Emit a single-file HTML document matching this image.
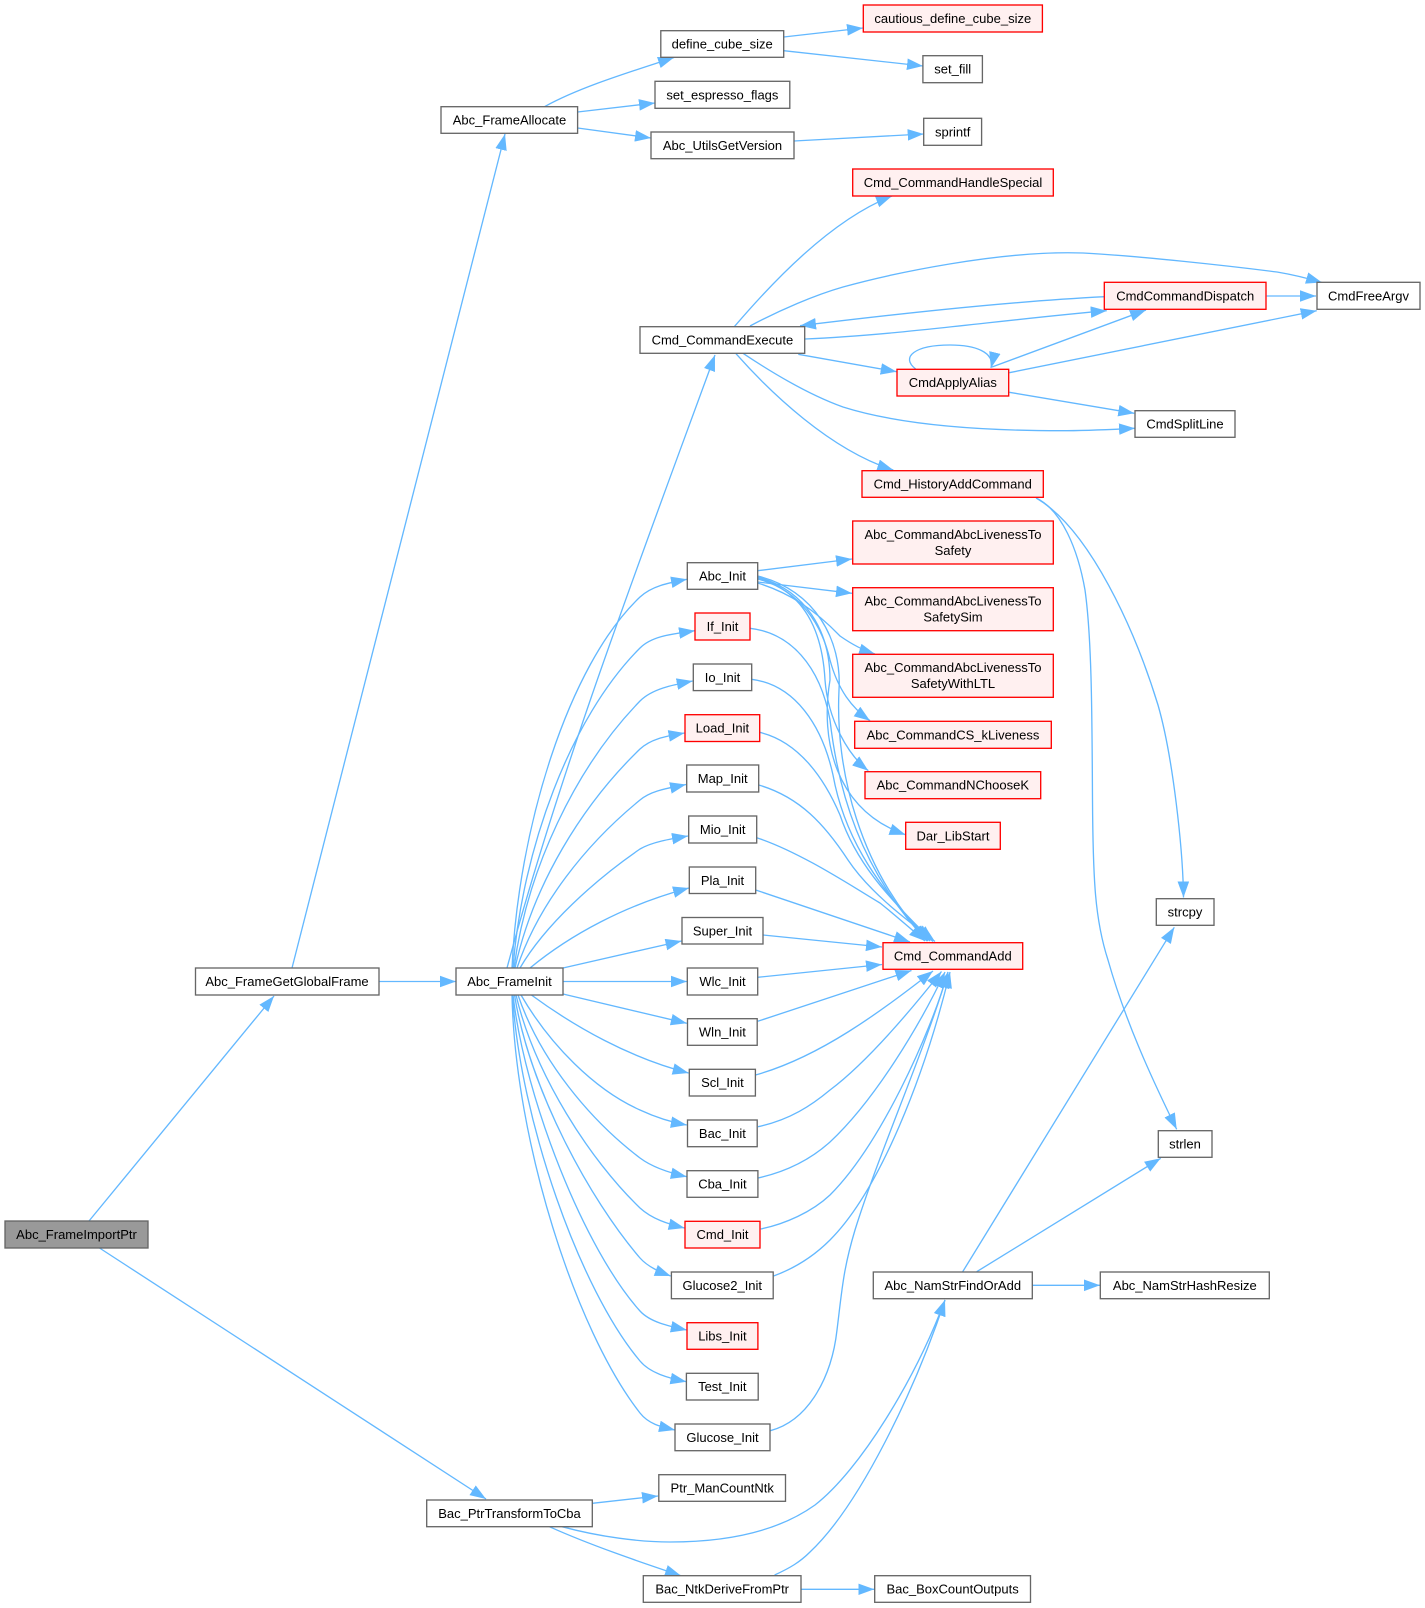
<!DOCTYPE html>
<html><head><meta charset="utf-8"><style>
html,body{margin:0;padding:0;background:#fff}
svg{display:block}
text{font-family:"Liberation Sans",Arial,sans-serif;font-size:13px;text-anchor:middle;fill:#000}
.n rect{fill:#fff;stroke:#666;stroke-width:1.33}
.n.r rect{fill:#fff0f0;stroke:#f00}
.n.g rect{fill:#999}
.e path{fill:none;stroke:#63b8ff;stroke-width:1.33;marker-end:url(#a)}
</style></head><body>
<svg xmlns="http://www.w3.org/2000/svg" width="1425" height="1608" viewBox="0 0 1425 1608">
<defs><marker id="a" markerUnits="userSpaceOnUse" markerWidth="17" markerHeight="12" refX="16" refY="5.8" orient="auto"><path d="M0,0 L16,5.8 L0,11.6 z" fill="#63b8ff" stroke="none"/></marker></defs>
<g class="e">
<path d="M89,1221 L274,996"/>
<path d="M99.5,1248 L486,1499"/>
<path d="M292,968 L505,134"/>
<path d="M379,981.5 L456,981.5"/>
<path d="M544.5,106.7 C580,87 630,72 674,57.5"/>
<path d="M577.6,112 L655,103"/>
<path d="M577.6,128 L651,138"/>
<path d="M783.7,37 L863,28"/>
<path d="M783.7,50.7 L923,66"/>
<path d="M794,141 L923.7,134"/>
<path d="M507,968 C560,770 640,560 715,355"/>
<path d="M512,968 C518,830 568,665 640,597 C652,586 668,583 687,579.3"/>
<path d="M513,968 C522,850 570,718 640,648 C652,636 672,634 695,630.7"/>
<path d="M514,968 C527,870 575,768 640,701 C652,689 672,685 692.7,681"/>
<path d="M515,968 C533,885 582,805 640,749 C652,738 668,736 684.5,733"/>
<path d="M517,968 C538,905 585,845 640,800 C652,790 670,788 686,784.5"/>
<path d="M520,968 C545,925 595,880 640,849 C652,842 670,839 688,836"/>
<path d="M530,968 C570,935 625,905 689,888"/>
<path d="M563,968 L681.5,941"/>
<path d="M563,981.5 L687,981.5"/>
<path d="M563,994 L686.8,1023.3"/>
<path d="M531.4,995 C575,1027 630,1058 688.6,1073"/>
<path d="M521,995 C550,1045 595,1090 640,1110 C655,1117 670,1122 686.8,1125"/>
<path d="M518,995 C540,1060 590,1120 640,1158 C652,1167 670,1173 686.8,1176.7"/>
<path d="M516,995 C535,1075 590,1160 640,1208 C652,1219 668,1224 684.6,1228"/>
<path d="M514.5,995 C530,1090 590,1200 640,1258 C648,1267 660,1272 670.7,1276"/>
<path d="M513,995 C525,1100 585,1250 640,1311 C650,1322 668,1326 686.8,1330"/>
<path d="M512.5,995 C520,1120 580,1290 640,1361 C650,1373 668,1378 686.4,1381.7"/>
<path d="M512,995 C515,1140 575,1330 640,1413 C649,1424.5 662,1427 675,1430"/>
<path d="M757.7,570.7 L852,559"/>
<path d="M757.7,582 L852,593.3"/>
<path d="M757.7,583 C790,593 815,610 840,636 C850,643 862,650 875,654"/>
<path d="M757.7,579 C800,590 822,625 830,660 C838,690 852,708 870,720.7"/>
<path d="M757.7,578 C800,590 822,625 825,680 C828,720 848,755 868.3,770.7"/>
<path d="M757.7,577 C805,590 830,630 830,680 C820,740 835,810 905.5,834.7"/>
<path d="M757.7,576 C815,590 842,640 839,690 C835,770 860,870 928,941"/>
<path d="M750,628.3 C790,633 820,665 830,720 C838,790 860,870 927,941"/>
<path d="M751.7,679.3 C795,685 822,725 833,775 C843,830 870,880 930,941"/>
<path d="M759.7,732.3 C800,742 825,780 840,815 C855,860 885,895 933,941.5"/>
<path d="M758.7,785 C800,797 825,825 848,860 C868,890 900,915 935,941.5"/>
<path d="M756.7,837.7 C800,852 850,885 880,903 C895,915 910,928 925,941"/>
<path d="M755.7,890 L910,942"/>
<path d="M763,935 L882,947"/>
<path d="M757.7,977.3 L882,964.5"/>
<path d="M757.7,1021.3 L911.5,970.5"/>
<path d="M755.5,1075 C820,1057 880,1012 933,971"/>
<path d="M758,1126.7 C790,1120 812,1105 830,1090 C870,1060 915,1005 941.5,971.5"/>
<path d="M758,1178 C785,1172 810,1160 830,1142 C875,1100 920,1025 945,972"/>
<path d="M760.7,1229 C785,1224 812,1212 830,1195 C880,1145 930,1035 948,972"/>
<path d="M773.6,1276 C790,1270 810,1260 830,1240 C880,1190 925,1075 950,972"/>
<path d="M770.4,1430.7 C810,1420 832,1375 837,1330 C842,1290 843,1270 855,1230 C880,1150 925,1050 948,972"/>
<path d="M734.3,326.7 C770,285 830,220 892,196"/>
<path d="M750,326 C780,310 815,295 843,287 C890,274 1000,250 1083,253 C1140,256 1230,266 1277,272 C1295,275 1310,279 1322,282.5"/>
<path d="M805,339 C900,335 1000,320 1106.7,310.7"/>
<path d="M1104.5,296.7 C1000,302 880,316 800,325.7"/>
<path d="M798.3,354.3 L896.7,371.7"/>
<path d="M743,353.3 C780,378 815,397 843,407 C900,425 980,431 1067,430.7 C1090,430.5 1112,429.5 1135,428.3"/>
<path d="M736,353.7 C770,392 830,450 893.3,470"/>
<path d="M915.7,369 C900,357 915,345 950,345 C975,345 995,352 991,368"/>
<path d="M992,367 L1146,310"/>
<path d="M1009.3,372.7 L1316.7,310.7"/>
<path d="M1009.3,392.3 L1134.3,413.3"/>
<path d="M1266.7,296 L1316,296"/>
<path d="M1036.7,498.3 C1090,530 1135,630 1158,705 C1173,757 1183,850 1183.5,897.5"/>
<path d="M1036,498 C1062,510 1078,550 1085,590 C1092,640 1092,720 1092.5,800 C1093,880 1095,920 1108,960 C1125,1020 1150,1075 1176.7,1129.3"/>
<path d="M962.7,1271.7 L1174.3,927.3"/>
<path d="M976.7,1271.7 L1160.7,1158.3"/>
<path d="M1032.3,1285.3 L1100,1285.3"/>
<path d="M592.3,1503.3 L658,1496"/>
<path d="M562,1526.7 C600,1537 640,1542 670,1542 C730,1542 780,1530 815,1505 C860,1470 915,1380 945,1300"/>
<path d="M774.6,1575 C790,1568 800,1562 810,1552 C860,1505 915,1390 945,1300"/>
<path d="M549.4,1526.7 C590,1545 640,1562 681,1575.7"/>
<path d="M801,1589.3 L874.3,1589.3"/>
</g>
<g class="n g"><rect x="5" y="1221" width="143" height="27"/><text x="76.5" y="1239">Abc_FrameImportPtr</text></g>
<g class="n"><rect x="195.5" y="968" width="183.5" height="27"/><text x="287" y="986">Abc_FrameGetGlobalFrame</text></g>
<g class="n"><rect x="456" y="968" width="107" height="27"/><text x="509.5" y="986">Abc_FrameInit</text></g>
<g class="n"><rect x="441" y="106.7" width="136.6" height="26.6"/><text x="509.5" y="124.5">Abc_FrameAllocate</text></g>
<g class="n"><rect x="660.8" y="30.7" width="122.9" height="26.6"/><text x="722.2" y="48.5">define_cube_size</text></g>
<g class="n"><rect x="655" y="81.3" width="134.8" height="27"/><text x="722.4" y="99.3">set_espresso_flags</text></g>
<g class="n"><rect x="651" y="132" width="143" height="26.7"/><text x="722.5" y="150">Abc_UtilsGetVersion</text></g>
<g class="n r"><rect x="863.3" y="5" width="179.1" height="27"/><text x="952.8" y="23">cautious_define_cube_size</text></g>
<g class="n"><rect x="922.9" y="55.7" width="59.5" height="27"/><text x="952.7" y="73.7">set_fill</text></g>
<g class="n"><rect x="923.7" y="118.3" width="57.9" height="27"/><text x="952.7" y="136.3">sprintf</text></g>
<g class="n r"><rect x="852.7" y="169" width="200.6" height="27"/><text x="953" y="187">Cmd_CommandHandleSpecial</text></g>
<g class="n"><rect x="640" y="326.7" width="164.7" height="26.6"/><text x="722.4" y="344.5">Cmd_CommandExecute</text></g>
<g class="n r"><rect x="1104.3" y="282.3" width="161.7" height="27"/><text x="1185.2" y="300.3">CmdCommandDispatch</text></g>
<g class="n"><rect x="1317" y="282.3" width="103" height="27"/><text x="1368.5" y="300.3">CmdFreeArgv</text></g>
<g class="n r"><rect x="897" y="369.3" width="111.7" height="26.7"/><text x="952.8" y="387.2">CmdApplyAlias</text></g>
<g class="n"><rect x="1135" y="410.7" width="100" height="26.6"/><text x="1185" y="428.5">CmdSplitLine</text></g>
<g class="n r"><rect x="862" y="470.7" width="181.3" height="26.6"/><text x="952.7" y="488.5">Cmd_HistoryAddCommand</text></g>
<g class="n r"><rect x="852.7" y="521" width="200.6" height="43"/><text x="953" y="538.8">Abc_CommandAbcLivenessTo</text><text x="953" y="554.8">Safety</text></g>
<g class="n r"><rect x="852.7" y="587.7" width="200.6" height="43"/><text x="953" y="605.5">Abc_CommandAbcLivenessTo</text><text x="953" y="621.5">SafetySim</text></g>
<g class="n r"><rect x="852.7" y="654.3" width="200.6" height="43"/><text x="953" y="672.1">Abc_CommandAbcLivenessTo</text><text x="953" y="688.1">SafetyWithLTL</text></g>
<g class="n r"><rect x="854.7" y="721.3" width="196.6" height="27"/><text x="953" y="739.3">Abc_CommandCS_kLiveness</text></g>
<g class="n r"><rect x="865" y="771.7" width="175.7" height="27"/><text x="952.8" y="789.7">Abc_CommandNChooseK</text></g>
<g class="n r"><rect x="905.7" y="822.3" width="94.6" height="27"/><text x="953" y="840.3">Dar_LibStart</text></g>
<g class="n r"><rect x="883" y="942.7" width="139.7" height="26.6"/><text x="952.8" y="960.5">Cmd_CommandAdd</text></g>
<g class="n"><rect x="687.3" y="562.7" width="70.4" height="26.6"/><text x="722.5" y="580.5">Abc_Init</text></g>
<g class="n r"><rect x="695" y="613" width="55" height="27"/><text x="722.5" y="631">If_Init</text></g>
<g class="n"><rect x="693.3" y="664" width="58.4" height="26.6"/><text x="722.5" y="681.8">Io_Init</text></g>
<g class="n r"><rect x="685" y="714.7" width="74.7" height="26.8"/><text x="722.4" y="732.6">Load_Init</text></g>
<g class="n"><rect x="686.7" y="765" width="72" height="27"/><text x="722.7" y="783">Map_Init</text></g>
<g class="n"><rect x="688.7" y="816" width="68" height="27"/><text x="722.7" y="834">Mio_Init</text></g>
<g class="n"><rect x="689.3" y="867" width="66.4" height="26.5"/><text x="722.5" y="884.8">Pla_Init</text></g>
<g class="n"><rect x="682" y="917.5" width="81" height="26.5"/><text x="722.5" y="935.3">Super_Init</text></g>
<g class="n"><rect x="687.3" y="968" width="70.4" height="27"/><text x="722.5" y="986">Wlc_Init</text></g>
<g class="n"><rect x="687.5" y="1018.7" width="69.7" height="26.6"/><text x="722.4" y="1036.5">Wln_Init</text></g>
<g class="n"><rect x="689.3" y="1069.3" width="66.1" height="26.7"/><text x="722.4" y="1087.2">Scl_Init</text></g>
<g class="n"><rect x="687.5" y="1120" width="69.7" height="26.7"/><text x="722.4" y="1137.9">Bac_Init</text></g>
<g class="n"><rect x="687" y="1170.7" width="70.9" height="26.6"/><text x="722.4" y="1188.5">Cba_Init</text></g>
<g class="n r"><rect x="685" y="1221.3" width="75" height="26.7"/><text x="722.5" y="1239.2">Cmd_Init</text></g>
<g class="n"><rect x="671.4" y="1272" width="101.8" height="26.7"/><text x="722.3" y="1289.9">Glucose2_Init</text></g>
<g class="n r"><rect x="687" y="1322.7" width="70.9" height="26.6"/><text x="722.4" y="1340.5">Libs_Init</text></g>
<g class="n"><rect x="686.4" y="1373.3" width="71.8" height="26.7"/><text x="722.3" y="1391.2">Test_Init</text></g>
<g class="n"><rect x="675" y="1424" width="95" height="26.7"/><text x="722.5" y="1441.9">Glucose_Init</text></g>
<g class="n"><rect x="1156.3" y="898.7" width="57.7" height="26.6"/><text x="1185" y="916.5">strcpy</text></g>
<g class="n"><rect x="1158.3" y="1130.7" width="53.7" height="26.6"/><text x="1185" y="1148.5">strlen</text></g>
<g class="n"><rect x="873.3" y="1272" width="159" height="26.7"/><text x="952.8" y="1289.9">Abc_NamStrFindOrAdd</text></g>
<g class="n"><rect x="1100.3" y="1272" width="169" height="26.7"/><text x="1184.8" y="1289.9">Abc_NamStrHashResize</text></g>
<g class="n"><rect x="426.7" y="1500" width="165.6" height="26.7"/><text x="509.5" y="1517.9">Bac_PtrTransformToCba</text></g>
<g class="n"><rect x="658.8" y="1474.7" width="126.7" height="26.6"/><text x="722.2" y="1492.5">Ptr_ManCountNtk</text></g>
<g class="n"><rect x="643.3" y="1575.7" width="157.7" height="26.6"/><text x="722.2" y="1593.5">Bac_NtkDeriveFromPtr</text></g>
<g class="n"><rect x="874.7" y="1575.7" width="155.8" height="26.6"/><text x="952.6" y="1593.5">Bac_BoxCountOutputs</text></g>
</svg>
</body></html>
